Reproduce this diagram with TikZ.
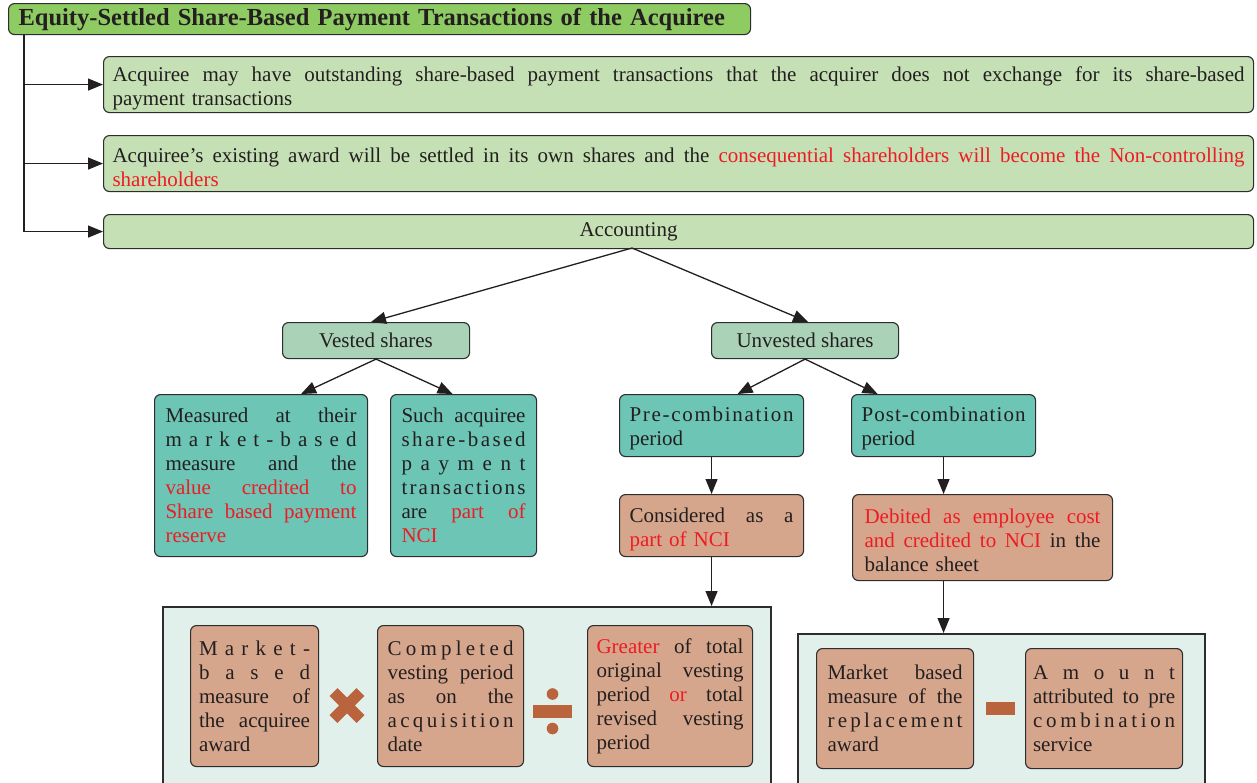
\documentclass[tikz,border=0pt]{standalone}
\usepackage{fontspec}
\setmainfont{Liberation Serif}
\usetikzlibrary{arrows.meta,calc}
\definecolor{txt}{RGB}{35,31,32}
\definecolor{hlc}{RGB}{237,28,36}
\definecolor{titlegreen}{RGB}{143,203,99}
\definecolor{lightgreen}{RGB}{197,224,180}
\definecolor{midgreen}{RGB}{169,210,182}
\definecolor{tealbox}{RGB}{108,197,181}
\definecolor{salmon}{RGB}{214,166,140}
\definecolor{panelc}{RGB}{226,240,236}
\definecolor{opc}{RGB}{185,100,60}
\definecolor{edgec}{RGB}{45,45,45}
\newcommand\jl[1]{\makebox[\linewidth][s]{\spaceskip=0pt\xspaceskip=0pt\relax #1}}
\newcommand\ls[1]{\makebox[\linewidth][s]{\spaceskip=0.01pt plus 1fil\relax #1}}
\newcommand\hl[1]{\textcolor{hlc}{#1}}
\newcommand\tstrut[1]{\rule{0pt}{#1}}
\tikzset{
  bx/.style={draw=edgec, line width=1.1pt, rounded corners=6pt, anchor=north west,
    inner ysep=0pt, align=left, text=txt, font=\fontsize{21}{24}\selectfont},
  panelbox/.style={draw=edgec, line width=1.5pt, fill=panelc, anchor=north west, inner sep=0pt},
  arr/.style={draw=txt, line width=1.3pt, -{Triangle[length=15pt,width=12pt]}},
  opfill/.style={fill=opc}
}
\begin{document}
\begin{tikzpicture}[x=1pt,y=1pt]
\useasboundingbox (0,0) rectangle (1257,-782);
\clip (0,0) rectangle (1257,-782);
\fill[white] (0,0) rectangle (1257,-782);

% title
\node[bx, fill=titlegreen, text width=722pt, inner xsep=10pt, minimum height=31pt,
  font=\bfseries\fontsize{24.5}{28}\selectfont] (title) at (8,-3)
  {Equity-Settled Share-Based Payment Transactions of the Acquiree};

% top three boxes
\node[bx, fill=lightgreen, text width=1132pt, inner xsep=9pt, minimum height=56pt] (b1) at (103,-56)
  {\jl{\tstrut{22pt}Acquiree may have outstanding share-based payment transactions that the acquirer does not exchange for its share-based}\\
   payment transactions};
\node[bx, fill=lightgreen, text width=1132pt, inner xsep=9pt, minimum height=56pt] (b2) at (103,-135)
  {\jl{\tstrut{22pt}Acquiree’s existing award will be settled in its own shares and the \hl{consequential shareholders will become the Non-controlling}}\\
   \hl{shareholders}};
\node[bx, fill=lightgreen, text width=1132pt, inner xsep=9pt, minimum height=34pt] (acc) at (103,-214)
  {\hspace*{467pt}Accounting};

\coordinate (trunk) at ($(title.south west)+(16,0)$);
\draw[arr] (trunk) |- (b1.west);
\draw[arr] (trunk) |- (b2.west);
\draw[arr] (trunk) |- (acc.west);

% level 2
\node[bx, fill=midgreen, minimum width=187pt, minimum height=36pt, inner xsep=0pt, align=center] (vested) at (282,-322) {Vested shares};
\node[bx, fill=midgreen, minimum width=187pt, minimum height=36pt, inner xsep=0pt, align=center] (unvested) at (711,-322) {Unvested shares};

\coordinate (accb) at (632,-248);
\draw[arr] (accb) -- ($(vested.north)+(-5,0)$);
\draw[arr] (accb) -- ($(unvested.north)+(3,0)$);

% level 3
\node[bx, fill=tealbox, text width=191pt, inner xsep=11pt, minimum height=162pt] (meas) at (154,-394)
  {\jl{Measured at their}\\
   \ls{m a r k e t - b a s e d}\\
   \jl{measure and the}\\
   \jl{\hl{value credited to}}\\
   \jl{\hl{Share based payment}}\\
   \hl{reserve}};
\node[bx, fill=tealbox, text width=124pt, inner xsep=11pt, minimum height=162pt] (such) at (390,-394)
  {\jl{Such acquiree}\\
   \ls{s h a r e - b a s e d}\\
   \ls{p a y m e n t}\\
   \ls{t r a n s a c t i o n s}\\
   \jl{are \hl{part of}}\\
   \hl{NCI}};
\node[bx, fill=tealbox, text width=164pt, inner xsep=10pt, minimum height=62pt] (pre) at (619,-394)
  {\ls{\tstrut{21pt}P r e - c o m b i n a t i o n}\\ period};
\node[bx, fill=tealbox, text width=164pt, inner xsep=10pt, minimum height=62pt] (post) at (851,-394)
  {\ls{\tstrut{21pt}P o s t - c o m b i n a t i o n}\\ period};

\draw[arr] (vested.south) -- ($(meas.north)+(40,0)$);
\draw[arr] (vested.south) -- ($(such.north)+(-11,0)$);
\draw[arr] (unvested.south) -- ($(pre.north)+(26,0)$);
\draw[arr] (unvested.south) -- ($(post.north)+(-66,0)$);

% level 4
\node[bx, fill=salmon, text width=164pt, inner xsep=10pt, minimum height=62pt] (cons) at (619,-494)
  {\jl{\tstrut{22pt}Considered as a}\\ \hl{part of NCI}};
\node[bx, fill=salmon, text width=236pt, inner xsep=12pt, minimum height=86pt] (deb) at (852,-494)
  {\jl{\tstrut{20pt}\hl{Debited as employee cost}}\\
   \jl{\hl{and credited to NCI} in the}\\
   balance sheet};

\draw[arr] (pre.south) -- (cons.north);
\draw[arr] (post.south) -- (deb.north -| post.south);

% panels
\node[panelbox, minimum width=608pt, minimum height=200pt] (pl) at (162,-606) {};
\node[panelbox, minimum width=407pt, minimum height=180pt] (pr) at (797,-633) {};

\draw[arr] (cons.south) -- (cons.south |- pl.north);
\draw[arr] (deb.south -| post.south) -- (pr.north -| post.south);

% left panel contents
\node[bx, fill=salmon, text width=111pt, inner xsep=8.5pt, minimum height=141pt] (fa) at (190,-625)
  {\ls{M a r k e t -}\\
   \ls{b a s e d}\\
   \jl{measure of}\\
   \jl{the acquiree}\\
   award};
\node[bx, fill=salmon, text width=126pt, inner xsep=10pt, minimum height=141pt] (fb) at (377,-625)
  {\ls{C o m p l e t e d}\\
   \jl{vesting period}\\
   \jl{as on the}\\
   \ls{a c q u i s i t i o n}\\
   date};
\node[bx, fill=salmon, text width=147pt, inner xsep=9pt, minimum height=141pt] (fc) at (587,-625)
  {\jl{\hl{Greater} of total}\\
   \jl{original vesting}\\
   \jl{period \hl{or} total}\\
   \jl{revised vesting}\\
   period};

% right panel contents
\node[bx, fill=salmon, text width=135pt, inner xsep=11pt, minimum height=120pt] (fd) at (816,-648)
  {\jl{Market based}\\
   \jl{measure of the}\\
   \ls{r e p l a c e m e n t}\\
   award};
\node[bx, fill=salmon, text width=142pt, inner xsep=7.5pt, minimum height=120pt] (fe) at (1025,-648)
  {\ls{A m o u n t}\\
   \jl{attributed to pre}\\
   \ls{c o m b i n a t i o n}\\
   service};

% operators
\draw[opc, line width=11pt] (333.5,-692) -- (360.5,-719) (333.5,-719) -- (360.5,-692);
\fill[opfill] (533,-705) rectangle (572,-718);
\fill[opfill] (552.5,-694) circle (5.8);
\fill[opfill] (552.5,-728.5) circle (5.8);
\fill[opfill] (986,-702) rectangle (1015,-715);
\end{tikzpicture}
\end{document}
